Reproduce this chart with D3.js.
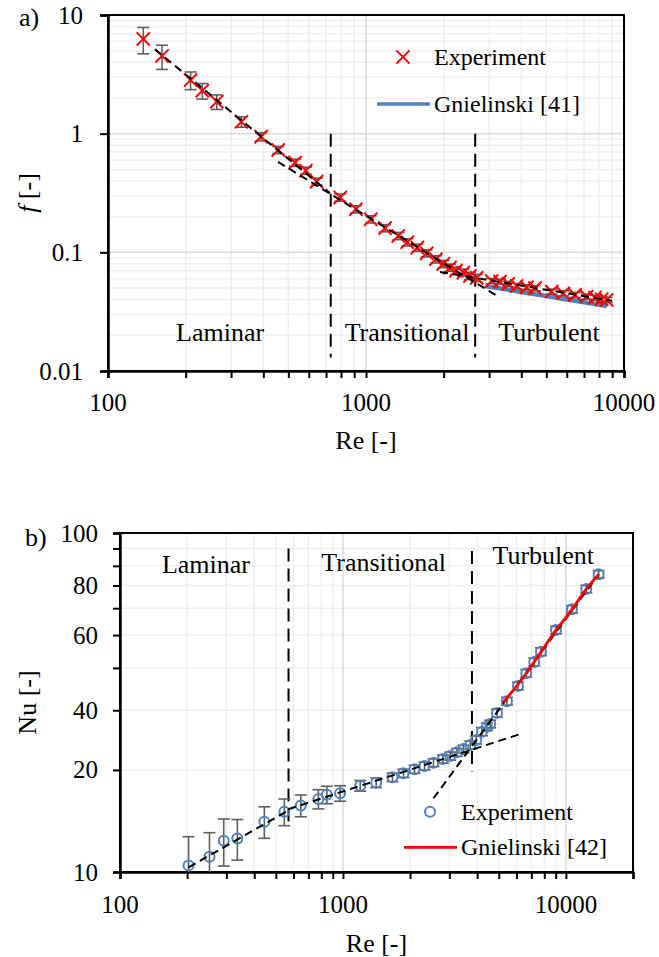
<!DOCTYPE html>
<html>
<head>
<meta charset="utf-8">
<script src="https://cdn.jsdelivr.net/npm/d3@7"></script>
<style>
  body { margin: 0; background: #fff; }
  svg { display: block; }
  text { font-family: "Liberation Serif", "Times New Roman", serif; fill: #000; }
</style>
</head>
<body>
<svg id="fig" width="659" height="957"></svg>
<script>
// ---------- Panel a) : friction factor f vs Re ----------
const reA = [137, 162, 209, 232, 264, 329, 392, 457, 531, 585, 644, 795, 914, 1043, 1185, 1334,
  1446, 1581, 1719, 1867, 1993, 2116, 2233, 2384, 2530, 2686, 3071, 3307, 3561, 3838, 4197,
  4519, 5246, 5817, 6457, 7169, 7720, 8196, 8570];
const fExp = [6.28, 4.52, 2.83, 2.30, 1.86, 1.26, 0.944, 0.729, 0.570, 0.488, 0.394, 0.290,
  0.231, 0.190, 0.160, 0.1375, 0.1217, 0.1096, 0.0983, 0.0875, 0.0799, 0.0743, 0.0701, 0.0675,
  0.0633, 0.0609, 0.0574, 0.0566, 0.0542, 0.0521, 0.0508, 0.0499, 0.0467, 0.0452, 0.0438,
  0.0424, 0.0415, 0.0403, 0.0397];
// relative uncertainty of f, percent
const fErrPct = [25, 23, 17, 15, 14, 10, 8, 7, 7, 7, 7, 7, 7, 7, 7, 7, 7, 7, 7, 7, 7, 7, 7, 7,
  7, 7, 5, 5, 5, 5, 5, 5, 5, 5, 5, 5, 5, 5, 5];
// Gnielinski [41] correlation
const gnielReA = [2900, 4000, 5000, 6000, 7000, 8600];
const gnielF = [0.0521, 0.0464, 0.0428, 0.0401, 0.0380, 0.0353];
// power-law fits per regime (end points)
const fitLamReA = [152, 725], fitLamF = [5.14, 0.316];
const fitTransReA = [456, 3219], fitTransF = [0.578, 0.0430];
const fitTurbReA = [1936, 8985], fitTurbF = [0.0684, 0.0390];
// regime boundaries
const boundReA = [730, 2650];
const boundFRange = [1, 0.013];
const regimeLabelsA = ["Laminar", "Transitional", "Turbulent"];
const regimeReA = [272, 1442, 5121];
const regimeFA = [0.021, 0.021, 0.021];
const xTicksA = [100, 1000, 10000];
const yTicksA = [0.01, 0.1, 1, 10];
const yTickLabelsA = ["0.01", "0.1", "1", "10"];

// ---------- Panel b) : Nusselt number vs Re ----------
const reB = [203, 252, 292, 336, 444, 546, 647, 776, 847, 971, 1195, 1409, 1668, 1868, 2094,
  2322, 2548, 2809, 3028, 3245, 3474, 3724, 3961, 4203, 4424, 4578, 4908, 5441, 6095, 6642,
  7214, 7731, 9029, 10651, 12344, 14025];
const nuExp = [10.46, 11.09, 12.37, 12.56, 14.07, 15.06, 15.71, 16.42, 16.90, 17.07, 17.97,
  18.34, 19.03, 19.55, 20.09, 20.54, 21.01, 21.54, 21.98, 22.54, 23.05, 23.69, 24.51, 25.94,
  26.83, 27.33, 29.44, 31.90, 35.38, 38.56, 41.64, 44.66, 51.74, 59.55, 68.36, 75.52];
// absolute uncertainty of Nu
const nuErr = [2.25, 1.97, 1.96, 1.72, 1.5, 1.36, 1.16, 1.07, 1.0, 0.9, 0.65, 0.6, 0.55, 0.55,
  0.55, 0.55, 0.55, 0.6, 0.6, 0.6, 0.6, 0.65, 0.65, 0.7, 0.7, 0.7, 0.8, 0.85, 0.9, 1.0, 1.1,
  1.2, 1.3, 1.5, 1.7, 1.9];
// Gnielinski [42] correlation
const gnielReB = [5250, 6640, 7730, 9030, 10650, 12340, 14030];
const gnielNu = [31.7, 38.5, 44.6, 51.7, 59.5, 68.3, 75.5];
// power-law fits per regime (end points)
const fitLamReB = [203, 568], fitLamNu = [10.32, 15.18];
const fitTransReB = [568, 6243], fitTransNu = [15.32, 25.53];
const fitTurbReB = [2548, 14030], fitTurbNu = [16.5, 75.5];
// regime boundaries
const boundReB = [570, 3790];
const boundNuTop = [90, 88.5];
const boundNuBottom = [13.6, 19.8];
const regimeReB = [243, 1523, 7917];
const regimeNuB = [80.5, 82.1, 86.1];
const xTicksB = [100, 1000, 10000];
const yTicksB = [10, 20, 30, 50, 70, 100];
const yTickLabelsB = ["10", "20", "40", "60", "80", "100"];

const svg = d3.select("#fig");
const GRID_MAJOR = "#d9d9d9", GRID_MINOR = "#efefef";
const BLUE = "#4f81bd", RED = "#ff0000", ERR = "#5f5f5f";

function panel(cfg) {
  const { box, xDomain, yDomain, id } = cfg;
  const x = d3.scaleLog().domain(xDomain).range([box.left, box.right]);
  const y = d3.scaleLog().domain(yDomain).range([box.bottom, box.top]);
  const g = svg.append("g");

  svg.append("clipPath").attr("id", id).append("rect")
    .attr("x", box.left).attr("y", box.top)
    .attr("width", box.right - box.left).attr("height", box.bottom - box.top);

  const isDecade = v => Math.abs(Math.log10(v) - Math.round(Math.log10(v))) < 1e-9;
  const xt = x.ticks(), yt = y.ticks();

  // minor then major gridlines
  const grid = g.append("g");
  grid.selectAll(".vx").data(xt.filter(v => !isDecade(v))).join("line")
    .attr("x1", d => x(d)).attr("x2", d => x(d)).attr("y1", box.top).attr("y2", box.bottom)
    .attr("stroke", GRID_MINOR).attr("stroke-width", 1.5);
  grid.selectAll(".hy").data(yt.filter(v => !isDecade(v))).join("line")
    .attr("y1", d => y(d)).attr("y2", d => y(d)).attr("x1", box.left).attr("x2", box.right)
    .attr("stroke", GRID_MINOR).attr("stroke-width", 1.5);
  grid.selectAll(".vX").data(xt.filter(isDecade)).join("line")
    .attr("x1", d => x(d)).attr("x2", d => x(d)).attr("y1", box.top).attr("y2", box.bottom)
    .attr("stroke", GRID_MAJOR).attr("stroke-width", 1.5);
  grid.selectAll(".hY").data(yt.filter(isDecade)).join("line")
    .attr("y1", d => y(d)).attr("y2", d => y(d)).attr("x1", box.left).attr("x2", box.right)
    .attr("stroke", GRID_MAJOR).attr("stroke-width", 1.5);

  // frame
  g.append("rect").attr("x", box.left).attr("y", box.top)
    .attr("width", box.right - box.left).attr("height", box.bottom - box.top)
    .attr("fill", "none").attr("stroke", "#000").attr("stroke-width", 2);

  // x axis: ticks on every log step, labels on decades
  const xAxis = d3.axisBottom(x).tickValues(xt).tickSize(7).tickFormat(() => "");
  const gx = g.append("g").attr("transform", `translate(0,${box.bottom})`).call(xAxis);
  gx.select(".domain").attr("stroke-width", 2.5);
  gx.selectAll(".tick line").attr("stroke-width", 2);
  g.selectAll(".xlab").data(cfg.xTicks).join("text")
    .attr("x", d => x(d)).attr("y", box.bottom + cfg.xLabelDy)
    .attr("text-anchor", "middle").attr("dominant-baseline", "central")
    .style("font-size", "25px").text(d => d3.format("d")(d));

  // y axis
  const yAxis = d3.axisLeft(y).tickValues(cfg.yTickMarks(yt)).tickSize(cfg.yTickLen).tickFormat(() => "");
  const gy = g.append("g").attr("transform", `translate(${box.left},0)`).call(yAxis);
  gy.select(".domain").attr("stroke-width", 2.5);
  gy.selectAll(".tick line").attr("stroke-width", 2);
  g.selectAll(".ylab").data(cfg.yTicks).join("text")
    .attr("x", box.left - cfg.yLabelDx).attr("y", d => y(d))
    .attr("text-anchor", "end").attr("dominant-baseline", "central")
    .style("font-size", "25px").text((d, i) => cfg.yTickLabels[i]);

  // axis titles
  g.append("text").attr("x", (box.left + box.right) / 2).attr("y", cfg.xTitleY)
    .attr("text-anchor", "middle").attr("dominant-baseline", "central")
    .style("font-size", "26px").text("Re [-]");
  const yt2 = g.append("text")
    .attr("transform", `translate(${cfg.yTitleX},${(box.top + box.bottom) / 2}) rotate(-90)`)
    .attr("text-anchor", "middle").attr("dominant-baseline", "central").style("font-size", "26px");
  if (cfg.yTitleItalic) {
    yt2.append("tspan").style("font-style", "italic").text(cfg.yTitleItalic);
    yt2.append("tspan").text(cfg.yTitleRest);
  } else {
    yt2.text(cfg.yTitleRest);
  }

  // panel tag
  g.append("text").attr("x", cfg.tagX).attr("y", cfg.tagY)
    .attr("dominant-baseline", "central").style("font-size", "26px").text(cfg.tag);

  const plot = g.append("g").attr("clip-path", `url(#${id})`);
  return { x, y, g, plot };
}

const dashedLine = (sel, x, y, xs, ys, dash) => {
  const pts = xs.map((v, i) => [x(v), y(ys[i])]);
  sel.append("path").attr("d", d3.line()(pts)).attr("fill", "none")
    .attr("stroke", "#000").attr("stroke-width", 2).attr("stroke-dasharray", dash);
};

// ================= Panel a =================
{
  const P = panel({
    id: "clipA", box: { left: 108, top: 15, right: 624, bottom: 371 },
    xDomain: [100, 10000], yDomain: [0.01, 10],
    xTicks: xTicksA, xLabelDy: 31, yTicks: yTicksA, yTickLabels: yTickLabelsA,
    yTickMarks: () => yTicksA, yTickLen: 8, yLabelDx: 25,
    xTitleY: 440, yTitleX: 27, yTitleItalic: "f", yTitleRest: " [-]",
    tag: "a)", tagX: 19, tagY: 17
  });
  const { x, y, plot, g } = P;

  // regime boundaries
  boundReA.forEach(r => dashedLine(plot, x, y, [r, r], boundFRange, "13,7"));

  // Gnielinski correlation
  plot.append("path")
    .attr("d", d3.line().curve(d3.curveMonotoneX).x(d => x(d[0])).y(d => y(d[1]))(gnielReA.map((r, i) => [r, gnielF[i]])))
    .attr("fill", "none").attr("stroke", BLUE).attr("stroke-width", 4.5);

  // error bars
  const eb = plot.append("g").attr("stroke", ERR).attr("stroke-width", 1.6);
  reA.forEach((r, i) => {
    const hi = fExp[i] * (1 + fErrPct[i] / 100), lo = fExp[i] * (1 - fErrPct[i] / 100);
    const cx = x(r);
    eb.append("line").attr("x1", cx).attr("x2", cx).attr("y1", y(hi)).attr("y2", y(lo));
    eb.append("line").attr("x1", cx - 6).attr("x2", cx + 6).attr("y1", y(hi)).attr("y2", y(hi));
    eb.append("line").attr("x1", cx - 6).attr("x2", cx + 6).attr("y1", y(lo)).attr("y2", y(lo));
  });

  // experiment markers
  const cross = d3.symbol().type(d3.symbolX).size(115);
  plot.selectAll(".xm").data(reA.map((r, i) => [r, fExp[i]])).join("path")
    .attr("transform", d => `translate(${x(d[0])},${y(d[1])})`)
    .attr("d", cross).attr("fill", "none").attr("stroke", RED).attr("stroke-width", 2);

  // regime fits
  dashedLine(plot, x, y, fitLamReA, fitLamF, "8,5");
  dashedLine(plot, x, y, fitTransReA, fitTransF, "8,5");
  dashedLine(plot, x, y, fitTurbReA, fitTurbF, "8,5");

  // regime labels
  g.selectAll(".reg").data(regimeLabelsA).join("text")
    .attr("x", (d, i) => x(regimeReA[i])).attr("y", (d, i) => y(regimeFA[i]))
    .attr("text-anchor", "middle").attr("dominant-baseline", "central")
    .style("font-size", "26px").text(d => d);

  // legend
  const lg = g.append("g");
  lg.append("path").attr("transform", "translate(403,57)").attr("d", cross)
    .attr("fill", "none").attr("stroke", RED).attr("stroke-width", 2);
  lg.append("text").attr("x", 434).attr("y", 57).attr("dominant-baseline", "central")
    .style("font-size", "24px").text("Experiment");
  lg.append("line").attr("x1", 377).attr("x2", 430).attr("y1", 104).attr("y2", 104)
    .attr("stroke", BLUE).attr("stroke-width", 3.5);
  lg.append("text").attr("x", 434).attr("y", 104).attr("dominant-baseline", "central")
    .style("font-size", "24px").text("Gnielinski [41]");
}

// ================= Panel b =================
{
  const P = panel({
    id: "clipB", box: { left: 120, top: 533, right: 633, bottom: 872 },
    xDomain: [100, 20000], yDomain: [10, 100],
    xTicks: xTicksB, xLabelDy: 32, yTicks: yTicksB, yTickLabels: yTickLabelsB,
    yTickMarks: t => t, yTickLen: 7, yLabelDx: 22,
    xTitleY: 943, yTitleX: 27, yTitleItalic: null, yTitleRest: "Nu [-]",
    tag: "b)", tagX: 25, tagY: 537
  });
  const { x, y, plot, g } = P;

  // regime boundaries
  boundReB.forEach((r, i) => dashedLine(plot, x, y, [r, r], [boundNuTop[i], boundNuBottom[i]], "13,7"));

  // error bars
  const eb = plot.append("g").attr("stroke", ERR).attr("stroke-width", 1.6);
  reB.forEach((r, i) => {
    const hi = nuExp[i] + nuErr[i], lo = nuExp[i] - nuErr[i];
    const cx = x(r);
    eb.append("line").attr("x1", cx).attr("x2", cx).attr("y1", y(hi)).attr("y2", y(Math.max(lo, 9)));
    eb.append("line").attr("x1", cx - 6).attr("x2", cx + 6).attr("y1", y(hi)).attr("y2", y(hi));
    if (lo > 10) eb.append("line").attr("x1", cx - 6).attr("x2", cx + 6).attr("y1", y(lo)).attr("y2", y(lo));
  });

  // experiment markers
  plot.selectAll(".cm").data(reB.map((r, i) => [r, nuExp[i]])).join("circle")
    .attr("cx", d => x(d[0])).attr("cy", d => y(d[1])).attr("r", 5)
    .attr("fill", "none").attr("stroke", BLUE).attr("stroke-width", 2);

  // regime fits
  dashedLine(plot, x, y, fitLamReB, fitLamNu, "8,5");
  dashedLine(plot, x, y, fitTransReB, fitTransNu, "8,5");
  dashedLine(plot, x, y, fitTurbReB, fitTurbNu, "8,5");

  // Gnielinski correlation
  plot.append("path")
    .attr("d", d3.line().curve(d3.curveMonotoneX).x(d => x(d[0])).y(d => y(d[1]))(gnielReB.map((r, i) => [r, gnielNu[i]])))
    .attr("fill", "none").attr("stroke", RED).attr("stroke-width", 2.8);

  // regime labels
  g.selectAll(".reg").data(regimeLabelsA).join("text")
    .attr("x", (d, i) => x(regimeReB[i])).attr("y", (d, i) => y(regimeNuB[i]))
    .attr("text-anchor", "middle").attr("dominant-baseline", "central")
    .style("font-size", "26px").text(d => d);

  // legend
  const lg = g.append("g");
  lg.append("circle").attr("cx", 430).attr("cy", 811.7).attr("r", 5)
    .attr("fill", "none").attr("stroke", BLUE).attr("stroke-width", 2);
  lg.append("text").attr("x", 461).attr("y", 811.7).attr("dominant-baseline", "central")
    .style("font-size", "24px").text("Experiment");
  lg.append("line").attr("x1", 404).attr("x2", 457).attr("y1", 847.3).attr("y2", 847.3)
    .attr("stroke", RED).attr("stroke-width", 2.8);
  lg.append("text").attr("x", 461).attr("y", 847.3).attr("dominant-baseline", "central")
    .style("font-size", "24px").text("Gnielinski [42]");
}
</script>
</body>
</html>
